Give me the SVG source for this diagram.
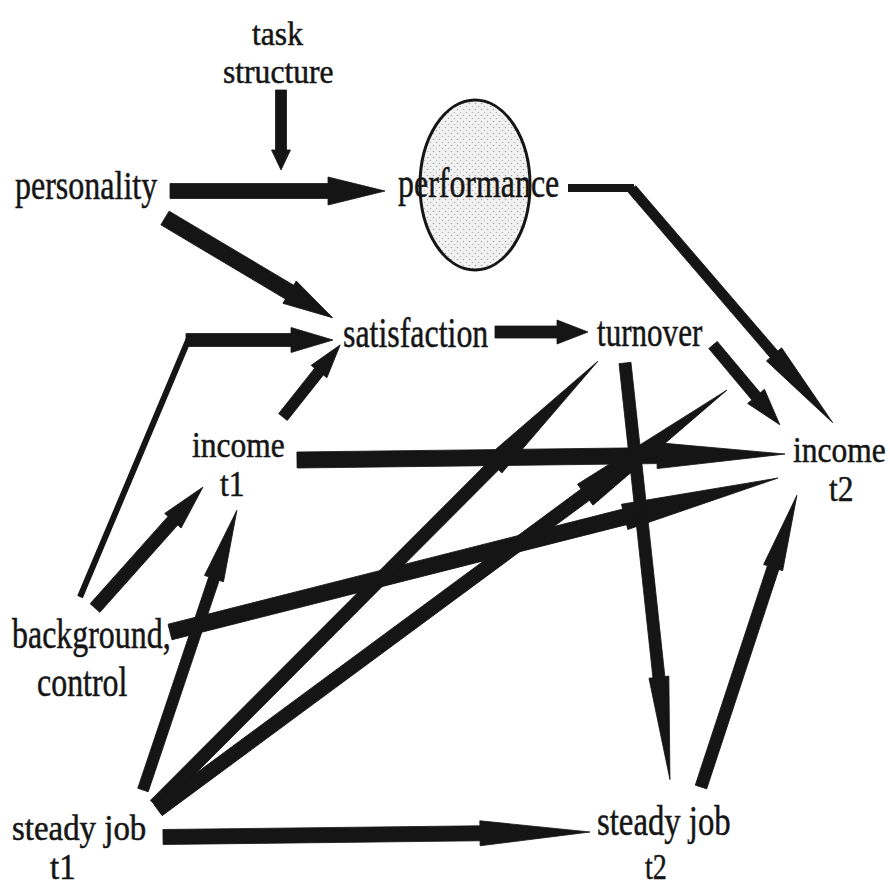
<svg xmlns="http://www.w3.org/2000/svg" width="890" height="887" viewBox="0 0 890 887">
<style>
  text { font-family: "Liberation Serif", "Times New Roman", serif; fill: #151515; stroke: #151515; stroke-width: 0.5px; }
  .arr { fill: #151515; stroke: #151515; stroke-width: 0.8; stroke-linejoin: miter; }
  .thin { stroke: #151515; fill: none; stroke-linecap: butt; }
</style>
<defs>
  <pattern id="dots" width="6" height="6" patternUnits="userSpaceOnUse">
    <rect width="6" height="6" fill="#f2f2f2"/>
    <circle cx="1.5" cy="1.5" r="0.8" fill="#a8a8a8"/>
    <circle cx="4.5" cy="4.5" r="0.8" fill="#b8b8b8"/>
  </pattern>
</defs>
<rect width="890" height="887" fill="#ffffff"/>

<g id="node-performance">
  <ellipse cx="475" cy="185" rx="55" ry="85" fill="url(#dots)" stroke="#151515" stroke-width="3"/>
  <text transform="scale(0.76,1)" font-size="42"><tspan x="523.7" y="197">performance</tspan></text>
</g>

<g id="connectors">
  <!-- task structure -> personality/performance path -->
  <polygon class="arr" transform="translate(281,90) rotate(90)" points="0,-5.5 60,-5.5 60,-9.5 80,0 60,9.5 60,5.5 0,5.5"/>
  <!-- personality -> performance -->
  <polygon class="arr" transform="translate(170,191)" points="0,-7.5 158,-7.5 158,-14 215,0 158,14 158,7.5 0,7.5"/>
  <!-- personality -> satisfaction -->
  <polygon class="arr" transform="translate(165,218) rotate(30.76)" points="0,-8 145,-8 145,-13 195,0 145,13 145,8 0,8"/>
  <!-- background -> satisfaction (bent) -->
  <line class="thin" x1="80" y1="597" x2="190" y2="336" stroke-width="6"/>
  <polygon class="arr" transform="translate(186,340)" points="0,-6.5 105,-6.5 105,-12.5 147,0 105,12.5 105,6.5 0,6.5"/>
  <!-- income t1 -> satisfaction -->
  <polygon class="arr" transform="translate(283,417) rotate(-51.6)" points="0,-5.5 58,-5.5 58,-10 92,0 58,10 58,5.5 0,5.5"/>
  <!-- background -> income t1 -->
  <polygon class="arr" transform="translate(95,608) rotate(-48.25)" points="0,-6.5 117,-6.5 117,-11 162,0 117,11 117,6.5 0,6.5"/>
  <!-- satisfaction -> turnover -->
  <polygon class="arr" transform="translate(495,332)" points="0,-6 62,-6 62,-12 93,0 62,12 62,6 0,6"/>
  <!-- performance -> income t2 (bent) -->
  <line class="thin" x1="568" y1="188" x2="634" y2="188" stroke-width="8"/>
  <polygon class="arr" transform="translate(632,189) rotate(49.34)" points="0,-5 218,-5 218,-10 308,0 218,10 218,5 0,5"/>
  <!-- turnover -> income t2 -->
  <polygon class="arr" transform="translate(713,345) rotate(50.05)" points="0,-5.5 67,-5.5 67,-11 104,0 67,11 67,5.5 0,5.5"/>
  <!-- income t1 -> income t2 -->
  <polygon class="arr" transform="translate(297,460) rotate(-0.7)" points="0,-8 360,-8 360,-13 488,0 360,13 360,8 0,8"/>
  <!-- background -> income t2 -->
  <polygon class="arr" transform="translate(170,632) rotate(-14.21)" points="0,-8 469,-8 469,-13 627,0 469,13 469,8 0,8"/>
  <!-- steady job t1 -> turnover -->
  <polygon class="arr" transform="translate(155,805) rotate(-45.06)" points="0,-6.5 480,-6.5 480,-11 627,0 480,11 480,6.5 0,6.5"/>
  <!-- steady job t1 -> income t2 region -->
  <polygon class="arr" transform="translate(158,810) rotate(-36.43)" points="0,-7 531,-7 531,-13 707,0 531,13 531,7 0,7"/>
  <!-- steady job t1 -> income t1 -->
  <polygon class="arr" transform="translate(143,790) rotate(-71.44)" points="0,-5.5 223,-5.5 223,-10 295,0 223,10 223,5.5 0,5.5"/>
  <!-- turnover -> steady job t2 -->
  <polygon class="arr" transform="translate(625,363) rotate(83.84)" points="0,-6 316,-6 316,-10 419,0 316,10 316,6 0,6"/>
  <!-- steady job t2 -> income t2 -->
  <polygon class="arr" transform="translate(701,787) rotate(-71.8)" points="0,-6 231,-6 231,-10 307,0 231,10 231,6 0,6"/>
  <!-- steady job t1 -> steady job t2 -->
  <polygon class="arr" transform="translate(163,837) rotate(-0.67)" points="0,-7.5 317,-7.5 317,-12.5 427,0 317,12.5 317,7.5 0,7.5"/>
</g>

<g id="node-task-structure">
  <text transform="scale(0.93,1)" font-size="34"><tspan x="271" y="45">task</tspan><tspan x="239.8" y="83">structure</tspan></text>
</g>
<g id="node-personality">
  <text transform="scale(0.8,1)" font-size="40"><tspan x="18.75" y="199">personality</tspan></text>
</g>
<g id="node-satisfaction">
  <text transform="scale(0.76,1)" font-size="42"><tspan x="451.3" y="347">satisfaction</tspan></text>
</g>
<g id="node-turnover">
  <text transform="scale(0.74,1)" font-size="42"><tspan x="806.8" y="346">turnover</tspan></text>
</g>
<g id="node-income-t1">
  <text transform="scale(0.9,1)" font-size="35"><tspan x="213.3" y="457">income</tspan><tspan x="244.4" y="496">t1</tspan></text>
</g>
<g id="node-income-t2">
  <text transform="scale(0.9,1)" font-size="35"><tspan x="881.1" y="462">income</tspan><tspan x="921.1" y="501">t2</tspan></text>
</g>
<g id="node-background">
  <text transform="scale(0.76,1)" font-size="42"><tspan x="15.8" y="648">background,</tspan><tspan x="48.7" y="696">control</tspan></text>
</g>
<g id="node-steady-job-t1">
  <text transform="scale(0.94,1)" font-size="35"><tspan x="12.8" y="840">steady job</tspan><tspan x="53.2" y="879">t1</tspan></text>
</g>
<g id="node-steady-job-t2">
  <text transform="scale(0.78,1)" font-size="42"><tspan x="765.4" y="835">steady job</tspan><tspan x="826.9" y="879" font-size="36">t2</tspan></text>
</g>
</svg>
